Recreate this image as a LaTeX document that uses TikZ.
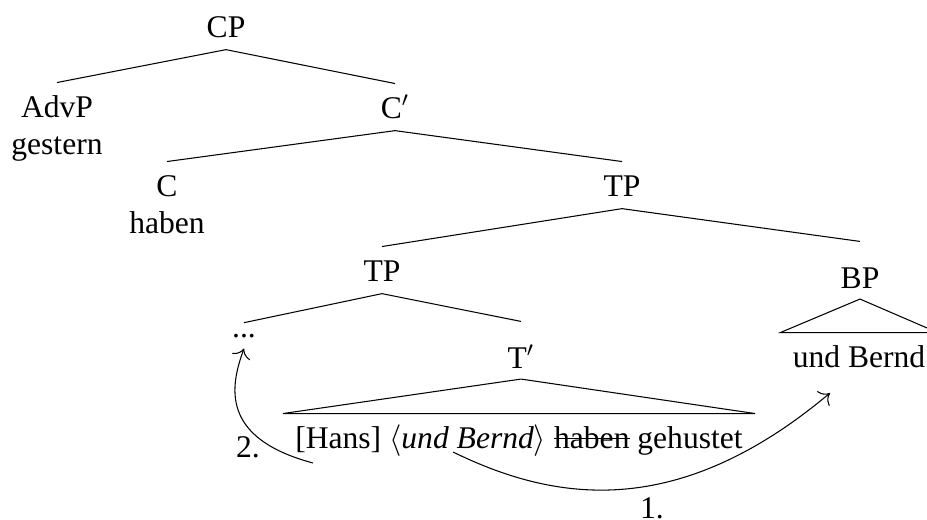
\documentclass[tikz,border=0pt]{standalone}
\usepackage{fontspec}
\setmainfont{Liberation Serif}
\usetikzlibrary{arrows,arrows.meta,positioning}

\newcommand\struck[1]{\setbox0\hbox{#1}\rlap{\rule[0.6ex]{\wd0}{0.45pt}}\box0\relax}

\begin{document}
\begin{tikzpicture}
        [
            x=0.38pt,
            y=0.38pt,
            every node/.style = {
                font=\fontsize{12}{14.4}\selectfont
            },
            cat/.style = {
                anchor=base,
                inner sep=2pt,
                text height=10.9pt,
                text depth=2.6pt
            },
            roofcat/.style = {
                cat,
                text height=15.5pt,
                text depth=2pt
            },
            leaf/.style = {
                cat,
                inner xsep=4.5pt
            },
            word/.style = {
                inner sep=0pt,
                text height=9.4pt,
                text depth=2.6pt
            },
            ellip/.style = {
                anchor=base,
                inner sep=4pt
            },
            move/.style = {
                draw,
                -{To[scale=1.4]}
            }
        ]

        \useasboundingbox (0,0) rectangle (927,-519);

        \node[cat] (cp) at (226,-37) {CP};
        \node[cat] (advp) at (57,-117) {AdvP};
        \node[word,below=0pt of advp] (gestern) {gestern};
        \node[cat] (cbar) at (395,-118) {C$'$};
        \node[cat] (c) at (167,-196) {C};
        \node[word,below=0pt of c] (haben) {haben};
        \node[cat] (tp) at (622,-196) {TP};
        \node[cat] (tplow) at (382,-281) {TP};
        \node[roofcat] (bp) at (860,-288) {BP};
        \node[ellip] (dots) at (244,-337) {...};
        \node[roofcat] (tbar) at (521,-368) {T$'$};
        \node[leaf] (clause) at (519,-448) {[Hans] $\langle$\textit{und Bernd}$\rangle$ \struck{haben} gehustet};
        \node[leaf] (bernd) at (859,-367) {und Bernd};

        \draw (cp.south) -- (advp.north);
        \draw (cp.south) -- (cbar.north);
        \draw (cbar.south) -- (c.north);
        \draw (cbar.south) -- (tp.north);
        \draw (tp.south) -- (tplow.north);
        \draw (tp.south) -- (bp.north);
        \draw (tplow.south) -- (dots.north);
        \draw (tplow.south) -- (tbar.north);
        \draw (tbar.south) -- (clause.north west) -- (clause.north east) -- cycle;
        \draw (bp.south) -- (bernd.north west) -- (bernd.north east) -- cycle;

        % movement steps
        \coordinate (trace) at (453,-452);
        \coordinate (landing) at (830,-393);
        \coordinate (subj) at (313,-463);
        \path[move] (trace) to[out=-26,in=220,out looseness=.73,in looseness=1.36] (landing);
        \path[move] (subj) to[out=165,in=-110,out looseness=1.86,in looseness=.76] (dots.south);
        \node (one) at (652,-508) {1.};
        \node (two) at (248,-447) {2.};
    \end{tikzpicture}
\end{document}
